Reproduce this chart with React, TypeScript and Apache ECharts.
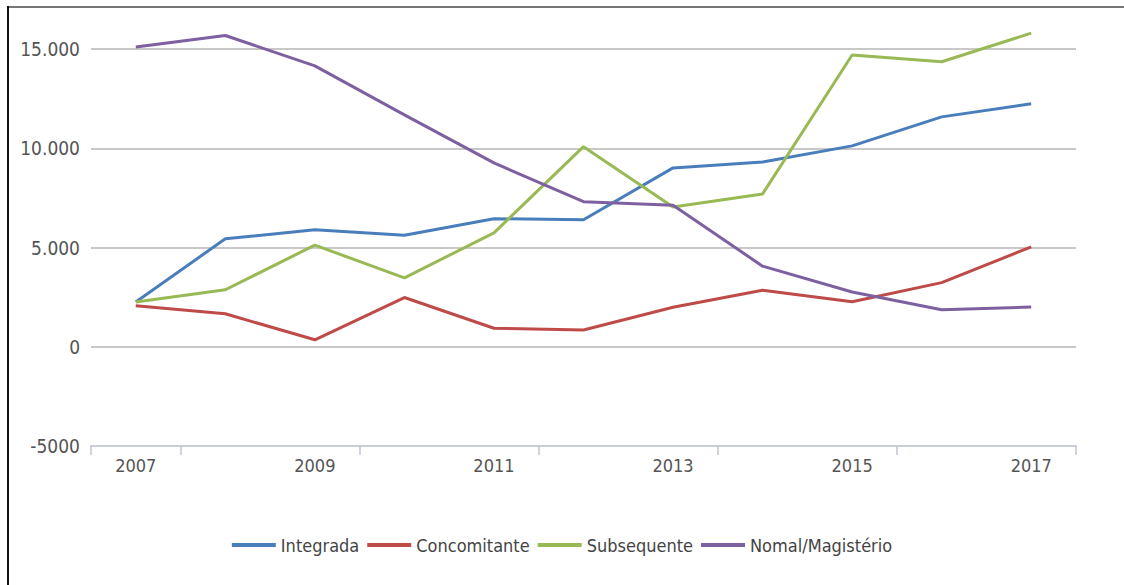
import React, { useEffect, useRef } from "react";
import * as echarts from "echarts";

const years = ["2007", "2008", "2009", "2010", "2011", "2012", "2013", "2014", "2015", "2016", "2017"];
const integrada = [2250, 5440, 5890, 5620, 6450, 6400, 9010, 9310, 10120, 11580, 12240];
const concomitante = [2060, 1660, 350, 2480, 930, 840, 1990, 2850, 2270, 3230, 5030];
const subsequente = [2260, 2870, 5120, 3470, 5740, 10080, 7040, 7700, 14700, 14360, 15800];
const normal = [15100, 15680, 14150, 11680, 9260, 7310, 7130, 4060, 2760, 1860, 2000];
const seriesNames = ["Integrada", "Concomitante", "Subsequente", "Nomal/Magistério"];
const seriesColors = ["#4a7ebb", "#be4b48", "#98b954", "#7d60a0"];
const yTickValues = [-5000, 0, 5000, 10000, 15000];
const yTickLabels = ["-5000", "0", "5.000", "10.000", "15.000"];

const FONT = "'DejaVu Sans Condensed', 'Liberation Sans Narrow', 'Roboto', sans-serif";

export default function App() {
  const ref = useRef<HTMLDivElement>(null);
  useEffect(() => {
    if (!ref.current) return;
    const chart = echarts.init(ref.current, null, { renderer: "svg" });
    const allData = [integrada, concomitante, subsequente, normal];
    chart.setOption({
      animation: false,
      backgroundColor: "#ffffff",
      grid: { left: 91, right: 48, top: 49, bottom: 139 },
      xAxis: {
        type: "category",
        data: years,
        boundaryGap: true,
        axisLine: { show: true, onZero: false, lineStyle: { color: "#c9ced6", width: 2 } },
        axisTick: {
          show: true,
          length: 9,
          interval: (i: number) => i === 0 || i % 2 === 1,
          lineStyle: { color: "#bcc6d2", width: 1.5 },
        },
        axisLabel: { interval: 1, margin: 10, color: "#555555", fontSize: 18, fontFamily: FONT },
        splitLine: { show: false },
      },
      yAxis: {
        type: "value",
        min: -5000,
        max: 15000,
        interval: 5000,
        axisLine: { show: false },
        axisTick: { show: false },
        axisLabel: {
          margin: 11,
          color: "#555555",
          fontSize: 19,
          fontFamily: FONT,
          formatter: (v: number) => {
            const i = yTickValues.indexOf(v);
            return i >= 0 ? yTickLabels[i] : "";
          },
        },
        splitLine: { show: true, lineStyle: { color: "#c8c8c8", width: 2 } },
      },
      legend: {
        bottom: 26,
        left: "center",
        icon: "rect",
        itemWidth: 44,
        itemHeight: 4,
        itemGap: 8,
        textStyle: { color: "#444444", fontSize: 18, fontFamily: FONT },
        data: seriesNames,
      },
      graphic: [
        { type: "line", shape: { x1: 8, y1: 7, x2: 1124, y2: 7 }, style: { stroke: "#777777", lineWidth: 2 } },
        { type: "line", shape: { x1: 8, y1: 6, x2: 8, y2: 585 }, style: { stroke: "#111111", lineWidth: 2 } },
      ],
      series: seriesNames.map((name, i) => ({
        name,
        type: "line",
        data: allData[i],
        showSymbol: false,
        symbol: "none",
        clip: false,
        color: seriesColors[i],
        lineStyle: { color: seriesColors[i], width: 3 },
      })),
    });
    return () => chart.dispose();
  }, []);
  return (
    <div
      ref={ref}
      style={{ position: "absolute", left: 0, top: 0, width: 1124, height: 585 }}
    />
  );
}
